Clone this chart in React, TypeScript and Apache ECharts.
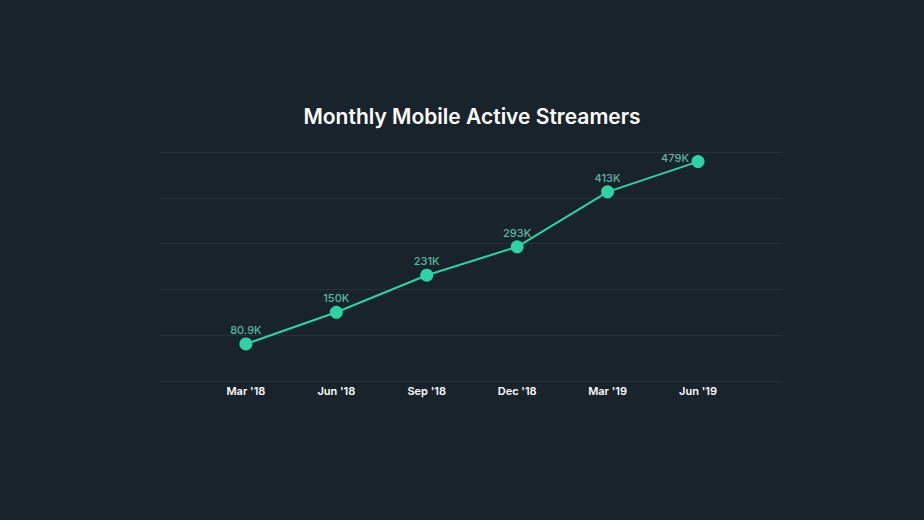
import React, { useEffect, useRef } from "react";
import * as echarts from "echarts";

const categories = ["Mar '18", "Jun '18", "Sep '18", "Dec '18", "Mar '19", "Jun '19"];
const values = [80.9, 150, 231, 293, 413, 479];
const valueLabels = ["80.9K", "150K", "231K", "293K", "413K", "479K"];
const yTicks = [0, 100, 200, 300, 400, 500];

export default function App() {
  const ref = useRef<HTMLDivElement>(null);
  useEffect(() => {
    if (!ref.current) return;
    const chart = echarts.init(ref.current, null, { renderer: "svg" });
    const font = "Inter, Roboto, 'Noto Sans', sans-serif";
    chart.setOption({
      animation: false,
      backgroundColor: "#19232c",
      graphic: [
        {
          type: "text",
          x: 472,
          y: 116,
          style: {
            text: "Monthly Mobile Active Streamers",
            fill: "#ffffff",
            font: `600 21px ${font}`,
            textAlign: "center",
            textVerticalAlign: "middle",
          },
        },
      ],
      grid: { left: 160, right: 141, top: 152, bottom: 139 },
      xAxis: {
        type: "value",
        min: -0.95,
        max: 5.94,
        axisLine: { show: false },
        axisTick: { show: false },
        splitLine: { show: false },
        axisLabel: {
          customValues: [0, 1, 2, 3, 4, 5],
          formatter: (v: number) => categories[Math.round(v)] ?? "",
          color: "#ffffff",
          fontFamily: font,
          fontWeight: 600,
          fontSize: 11,
          margin: 4,
        },
      },
      yAxis: {
        type: "value",
        min: yTicks[0],
        max: yTicks[yTicks.length - 1],
        interval: 100,
        axisLine: { show: false },
        axisTick: { show: false },
        axisLabel: { show: false },
        splitLine: { lineStyle: { color: "#25323c", width: 1 } },
      },
      series: [
        {
          type: "line",
          data: values.map((v, i) => ({
            value: [i, v],
            label:
              i === values.length - 1
                ? { offset: [-23, 10] }
                : undefined,
          })),
          symbol: "circle",
          symbolSize: 13,
          lineStyle: { color: "#2fd3a3", width: 2 },
          itemStyle: { color: "#2fd3a3" },
          label: {
            show: true,
            position: "top",
            distance: 2,
            formatter: (p: any) => valueLabels[p.dataIndex],
            color: "#5cb9a0",
            fontFamily: font,
            fontWeight: 500,
            fontSize: 11,
          },
        },
      ],
    });
    return () => chart.dispose();
  }, []);
  return (
    <div
      ref={ref}
      style={{ position: "absolute", left: 0, top: 0, width: 924, height: 520 }}
    />
  );
}
